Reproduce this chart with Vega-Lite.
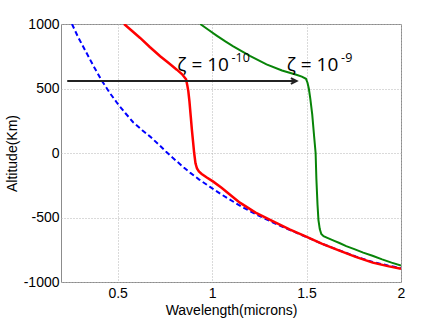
{
  "$schema": "https://vega.github.io/schema/vega-lite/v6.json",
  "width": 340,
  "height": 258,
  "autosize": {"type": "none"},
  "padding": {"left": 61, "top": 24, "right": 42, "bottom": 37},
  "background": "white",
  "config": {
    "view": {"stroke": "#8c8c8c", "strokeWidth": 1},
    "axis": {
      "domain": false, "ticks": false, "tickSize": 0,
      "grid": true, "gridColor": "#b4b4b4", "gridDash": [1, 2], "gridWidth": 1,
      "labelFont": "Liberation Sans", "labelFontSize": 14, "labelColor": "#000",
      "titleFont": "Liberation Sans", "titleFontSize": 14, "titleFontWeight": "normal", "titleColor": "#000"
    }
  },
  "datasets": {
    "blue": [
      {"lambda": 0.258, "alt": 1000}, {"lambda": 0.29, "alt": 900}, {"lambda": 0.33, "alt": 790},
      {"lambda": 0.37, "alt": 680}, {"lambda": 0.417, "alt": 558}, {"lambda": 0.46, "alt": 462},
      {"lambda": 0.5, "alt": 382}, {"lambda": 0.54, "alt": 310}, {"lambda": 0.583, "alt": 237},
      {"lambda": 0.63, "alt": 177}, {"lambda": 0.672, "alt": 127}, {"lambda": 0.72, "alt": 62},
      {"lambda": 0.755, "alt": 12}, {"lambda": 0.79, "alt": -35}, {"lambda": 0.85, "alt": -112},
      {"lambda": 0.883, "alt": -152}, {"lambda": 0.93, "alt": -204}, {"lambda": 0.989, "alt": -263},
      {"lambda": 1.05, "alt": -322}, {"lambda": 1.147, "alt": -408}, {"lambda": 1.23, "alt": -474},
      {"lambda": 1.323, "alt": -539}, {"lambda": 1.41, "alt": -596}, {"lambda": 1.498, "alt": -650},
      {"lambda": 1.58, "alt": -703}, {"lambda": 1.674, "alt": -755}, {"lambda": 1.76, "alt": -802},
      {"lambda": 1.85, "alt": -845}, {"lambda": 1.93, "alt": -872}, {"lambda": 2.0, "alt": -893}
    ],
    "red": [
      {"lambda": 0.534, "alt": 1000}, {"lambda": 0.575, "alt": 948}, {"lambda": 0.619, "alt": 892},
      {"lambda": 0.67, "alt": 822}, {"lambda": 0.725, "alt": 750}, {"lambda": 0.77, "alt": 697},
      {"lambda": 0.813, "alt": 646}, {"lambda": 0.84, "alt": 612}, {"lambda": 0.862, "alt": 572},
      {"lambda": 0.868, "alt": 530}, {"lambda": 0.874, "alt": 480}, {"lambda": 0.88, "alt": 400},
      {"lambda": 0.887, "alt": 282}, {"lambda": 0.893, "alt": 180}, {"lambda": 0.899, "alt": 90},
      {"lambda": 0.905, "alt": 0}, {"lambda": 0.912, "alt": -80}, {"lambda": 0.92, "alt": -120},
      {"lambda": 0.93, "alt": -143}, {"lambda": 0.945, "alt": -162}, {"lambda": 0.97, "alt": -188},
      {"lambda": 1.006, "alt": -222}, {"lambda": 1.05, "alt": -270}, {"lambda": 1.1, "alt": -330},
      {"lambda": 1.147, "alt": -385}, {"lambda": 1.23, "alt": -462}, {"lambda": 1.323, "alt": -530},
      {"lambda": 1.41, "alt": -592}, {"lambda": 1.498, "alt": -648}, {"lambda": 1.58, "alt": -703},
      {"lambda": 1.674, "alt": -757}, {"lambda": 1.76, "alt": -805}, {"lambda": 1.85, "alt": -850},
      {"lambda": 1.93, "alt": -877}, {"lambda": 2.0, "alt": -898}
    ],
    "green": [
      {"lambda": 0.937, "alt": 1000}, {"lambda": 0.98, "alt": 955}, {"lambda": 1.024, "alt": 910},
      {"lambda": 1.07, "alt": 865}, {"lambda": 1.112, "alt": 827}, {"lambda": 1.2, "alt": 753},
      {"lambda": 1.288, "alt": 687}, {"lambda": 1.37, "alt": 640}, {"lambda": 1.446, "alt": 607},
      {"lambda": 1.475, "alt": 592}, {"lambda": 1.497, "alt": 575}, {"lambda": 1.505, "alt": 545},
      {"lambda": 1.512, "alt": 500}, {"lambda": 1.52, "alt": 420}, {"lambda": 1.53, "alt": 300},
      {"lambda": 1.54, "alt": 130}, {"lambda": 1.548, "alt": 0}, {"lambda": 1.552, "alt": -200},
      {"lambda": 1.558, "alt": -400}, {"lambda": 1.563, "alt": -520}, {"lambda": 1.57, "alt": -590},
      {"lambda": 1.578, "alt": -628}, {"lambda": 1.59, "alt": -645}, {"lambda": 1.61, "alt": -658},
      {"lambda": 1.647, "alt": -681}, {"lambda": 1.674, "alt": -698}, {"lambda": 1.71, "alt": -722},
      {"lambda": 1.753, "alt": -745}, {"lambda": 1.8, "alt": -772}, {"lambda": 1.849, "alt": -797},
      {"lambda": 1.9, "alt": -825}, {"lambda": 1.95, "alt": -850}, {"lambda": 2.0, "alt": -873}
    ],
    "arrow": [{"lambda": 0.233, "alt": 558}, {"lambda": 1.447, "alt": 558}],
    "arrowhead": [{"lambda": 1.447, "alt": 558}],
    "labels": [{"lambda": 0.816, "alt": 638, "text": "ζ = 10"}, {"lambda": 1.395, "alt": 638, "text": "ζ = 10"}],
    "sups": [{"lambda": 1.103, "alt": 703, "text": "-10"}, {"lambda": 1.683, "alt": 703, "text": "-9"}]
  },
  "encoding": {
    "x": {
      "field": "lambda", "type": "quantitative",
      "scale": {"domain": [0.2, 2], "nice": false, "zero": false},
      "axis": {"values": [0.5, 1, 1.5, 2], "labelExpr": "'' + datum.value", "labelFlush": false, "labelBaseline": "alphabetic", "labelPadding": 15,
               "title": "Wavelength(microns)", "titleBaseline": "alphabetic", "titleY": 32, "titleX": 170}
    },
    "y": {
      "field": "alt", "type": "quantitative",
      "scale": {"domain": [-1000, 1000], "nice": false, "zero": false},
      "axis": {"values": [-1000, -500, 0, 500, 1000], "labelExpr": "'' + datum.value", "labelPadding": 2, "labelFlush": false,
               "title": "Altitude(Km)", "titleAngle": -90, "titleBaseline": "alphabetic", "titleX": -45, "titleY": 129}
    }
  },
  "layer": [
    {"data": {"name": "blue"}, "mark": {"type": "line", "color": "#0000ff", "strokeWidth": 2, "strokeDash": [5, 3], "clip": true}},
    {"data": {"name": "red"}, "mark": {"type": "line", "color": "#ff0000", "strokeWidth": 2.5, "clip": true}},
    {"data": {"name": "green"}, "mark": {"type": "line", "color": "#088408", "strokeWidth": 2, "clip": true}},
    {"data": {"name": "arrow"}, "mark": {"type": "line", "color": "#222222", "strokeWidth": 2}},
    {"data": {"name": "arrowhead"}, "mark": {"type": "point", "shape": "M-1,-0.5L0,0L-1,0.5", "size": 130, "filled": false, "stroke": "#222222", "strokeWidth": 2, "opacity": 1}},
    {"data": {"name": "labels"}, "mark": {"type": "text", "font": "Open Sans", "fontSize": 19, "align": "left", "baseline": "alphabetic", "color": "#000"}, "encoding": {"text": {"field": "text"}}},
    {"data": {"name": "sups"}, "mark": {"type": "text", "font": "Open Sans", "fontSize": 12.5, "align": "left", "baseline": "alphabetic", "color": "#000"}, "encoding": {"text": {"field": "text"}}}
  ]
}
